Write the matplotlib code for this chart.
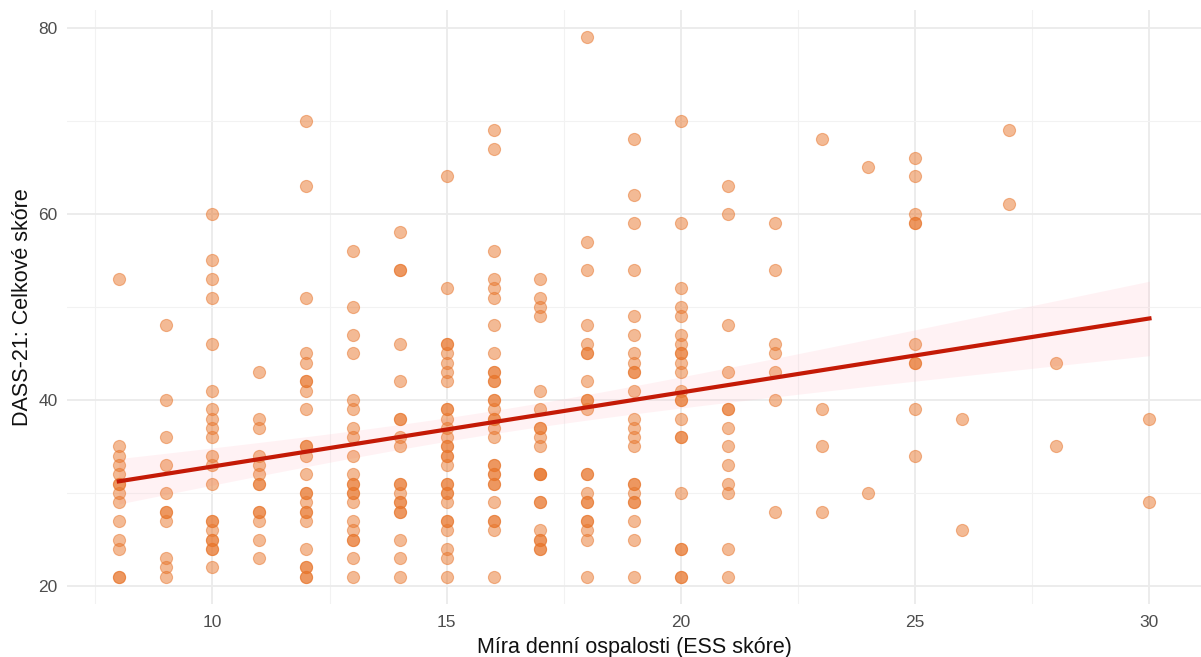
import numpy as np
import matplotlib.pyplot as plt

plt.rcParams['font.family'] = ['Liberation Sans', 'DejaVu Sans']

# DASS-21 total scores grouped by ESS score
ess_scores = [8, 9, 10, 11, 12, 13, 14, 15, 16, 17, 18, 19, 20,
              21, 22, 23, 24, 25, 26, 27, 28, 30]
dass_by_ess = [
    [53, 35, 34, 33, 32, 31, 31, 30, 29, 27, 25, 24, 21, 21],
    [48, 40, 36, 33, 30, 28, 28, 27, 23, 22, 21],
    [60, 55, 53, 51, 46, 41, 39, 38, 37, 36, 34, 33, 31, 27, 27, 26, 25, 25,
     24, 24, 22],
    [43, 38, 37, 34, 33, 32, 31, 31, 28, 28, 27, 25, 23],
    [70, 63, 51, 45, 44, 42, 42, 41, 39, 35, 35, 34, 32, 30, 30, 29, 28, 28,
     27, 24, 22, 22, 21, 21],
    [56, 50, 47, 45, 40, 39, 37, 36, 34, 32, 31, 31, 30, 30, 29, 27, 26, 25,
     25, 23, 21],
    [58, 54, 54, 46, 42, 38, 38, 36, 35, 31, 31, 30, 29, 29, 28, 28, 25, 23,
     21],
    [64, 52, 46, 46, 45, 44, 43, 42, 39, 39, 38, 37, 36, 35, 35, 34, 34, 33,
     31, 31, 30, 30, 29, 27, 27, 26, 24, 23, 21],
    [69, 67, 56, 53, 52, 51, 48, 45, 43, 43, 42, 42, 40, 40, 39, 38, 38, 37,
     36, 33, 33, 32, 32, 31, 31, 29, 27, 27, 26, 21],
    [53, 51, 50, 49, 41, 39, 37, 37, 36, 35, 32, 32, 32, 29, 29, 26, 25, 25,
     24, 24],
    [79, 57, 54, 48, 46, 45, 45, 42, 40, 40, 39, 32, 32, 30, 29, 29, 27, 27,
     26, 25, 21],
    [68, 62, 59, 54, 49, 47, 45, 44, 43, 43, 41, 38, 37, 36, 35, 31, 31, 30,
     29, 29, 27, 25, 21],
    [70, 59, 52, 50, 49, 47, 46, 45, 45, 44, 43, 41, 40, 40, 38, 36, 36, 30,
     24, 24, 21, 21],
    [63, 60, 48, 43, 39, 39, 37, 35, 33, 31, 30, 24, 21],
    [59, 54, 46, 45, 43, 40, 28],
    [68, 39, 35, 28],
    [65, 30],
    [66, 64, 60, 59, 59, 46, 44, 44, 39, 34],
    [38, 26],
    [69, 61],
    [44, 35],
    [38, 29],
]

x = np.concatenate([[e] * len(v) for e, v in zip(ess_scores, dass_by_ess)]).astype(float)
y = np.concatenate(dass_by_ess).astype(float)

# OLS fit with 95% confidence band
n = len(x)
slope, intercept = np.polyfit(x, y, 1)
resid = y - (intercept + slope * x)
s = np.sqrt(np.sum(resid ** 2) / (n - 2))
xs = np.linspace(x.min(), x.max(), 200)
fit = intercept + slope * xs
se = s * np.sqrt(1 / n + (xs - x.mean()) ** 2 / np.sum((x - x.mean()) ** 2))
t_crit = 1.968

fig = plt.figure(figsize=(12.01, 6.57), dpi=100)
ax = fig.add_axes([0.056, 0.081, 0.944, 0.904])

ax.scatter(x, y, s=76, color='#E8762C', alpha=0.5, linewidths=0.8, zorder=3)
ax.fill_between(xs, fit - t_crit * se, fit + t_crit * se,
                color='#FFC0CB', alpha=0.2, linewidth=0, zorder=2)
ax.plot(xs, fit, color='#C41A06', linewidth=3, zorder=4)

ax.set_xlim(6.9, 31.1)
ax.set_ylim(18.1, 81.9)
ax.set_xticks([10, 15, 20, 25, 30])
ax.set_yticks([20, 40, 60, 80])
ax.set_xticks([7.5, 12.5, 17.5, 22.5, 27.5], minor=True)
ax.set_yticks([30, 50, 70], minor=True)
ax.grid(which='major', color='#EBEBEB', linewidth=1.3, zorder=0)
ax.grid(which='minor', color='#F2F2F2', linewidth=0.8, zorder=0)
ax.set_axisbelow(True)
for sp in ax.spines.values():
    sp.set_visible(False)
ax.tick_params(which='both', length=0, labelsize=12.5, labelcolor='#4D4D4D')
ax.tick_params(axis='x', pad=8)
ax.tick_params(axis='y', pad=7)

ax.set_xlabel('Míra denní ospalosti (ESS skóre)', fontsize=15.5, color='#111111', labelpad=5)
ax.set_ylabel('DASS-21: Celkové skóre', fontsize=15.5, color='#111111', labelpad=4)

fig.savefig('out.png', dpi=100, facecolor='white')
